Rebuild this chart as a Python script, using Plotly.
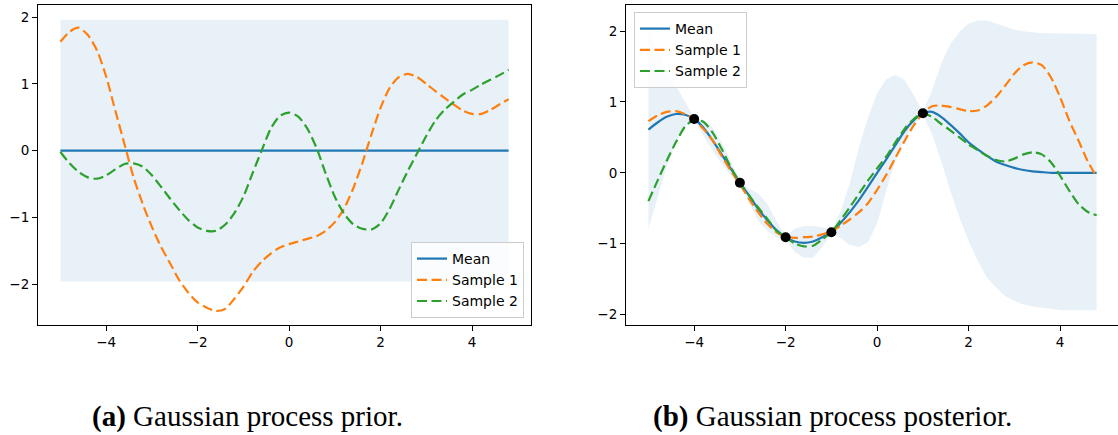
import plotly.graph_objects as go

# ---------------- data ----------------
x_grid = [-5.0, -4.8, -4.6, -4.4, -4.2, -4.0, -3.8, -3.6, -3.4, -3.2,
          -3.0, -2.8, -2.6, -2.4, -2.2, -2.0, -1.8, -1.6, -1.4, -1.2,
          -1.0, -0.8, -0.6, -0.4, -0.2, 0.0, 0.2, 0.4, 0.6, 0.8,
          1.0, 1.2, 1.4, 1.6, 1.8, 2.0, 2.2, 2.4, 2.6, 2.8,
          3.0, 3.2, 3.4, 3.6, 3.8, 4.0, 4.2, 4.4, 4.6, 4.8]

# (a) prior
prior_mean_x = [-5.0, 4.8]
prior_mean = [0.0, 0.0]
prior_band_x = [-5.0, 4.8]
prior_upper = [1.96, 1.96]
prior_lower = [-1.96, -1.96]
prior_sample1 = [1.63, 1.78, 1.84, 1.73, 1.50, 1.11,
                 0.60, 0.10, -0.40, -0.80, -1.14,
                 -1.44, -1.69, -1.94, -2.13, -2.27,
                 -2.35, -2.40, -2.37, -2.22, -2.04,
                 -1.82, -1.66, -1.54, -1.45, -1.40,
                 -1.36, -1.32, -1.28, -1.20, -1.07,
                 -0.87, -0.57, -0.19, 0.24, 0.64,
                 0.94, 1.10, 1.15, 1.10, 1.00,
                 0.89, 0.79, 0.69, 0.60, 0.55,
                 0.55, 0.61, 0.69, 0.77]
prior_sample2 = [-0.02, -0.19, -0.32, -0.40, -0.42, -0.37,
                 -0.28, -0.20, -0.19, -0.24, -0.37,
                 -0.54, -0.72, -0.89, -1.04, -1.15,
                 -1.20, -1.20, -1.11, -0.94, -0.69,
                 -0.34, 0.00, 0.33, 0.52, 0.57,
                 0.51, 0.33, 0.04, -0.34, -0.69,
                 -0.94, -1.10, -1.17, -1.18, -1.09,
                 -0.87, -0.58, -0.30, -0.04, 0.22,
                 0.45, 0.61, 0.73, 0.84, 0.91,
                 0.99, 1.06, 1.13, 1.21]

# (b) posterior
post_mean = [0.61, 0.71, 0.79, 0.83, 0.82, 0.76,
             0.64, 0.46, 0.26, 0.06, -0.14,
             -0.32, -0.51, -0.67, -0.81, -0.91,
             -0.97, -0.99, -0.97, -0.91, -0.84,
             -0.71, -0.56, -0.39, -0.20, 0.00,
             0.19, 0.39, 0.59, 0.74, 0.84,
             0.86, 0.79, 0.68, 0.56, 0.43,
             0.33, 0.24, 0.16, 0.11, 0.07,
             0.04, 0.02, 0.01, 0.00, 0.00,
             0.00, 0.00, 0.00, 0.00]
post_sample1 = [0.73, 0.81, 0.86, 0.87, 0.83, 0.75,
                0.62, 0.46, 0.24, 0.03, -0.16,
                -0.37, -0.56, -0.72, -0.84, -0.90,
                -0.92, -0.91, -0.90, -0.87, -0.83,
                -0.75, -0.66, -0.56, -0.43, -0.24,
                -0.03, 0.21, 0.45, 0.67, 0.84,
                0.94, 0.95, 0.93, 0.90, 0.87,
                0.88, 0.95, 1.07, 1.23, 1.40,
                1.52, 1.56, 1.52, 1.35, 1.07,
                0.74, 0.46, 0.17, -0.06]
post_sample2 = [-0.40, -0.11, 0.17, 0.43, 0.65, 0.75,
                0.72, 0.57, 0.34, 0.08, -0.14,
                -0.32, -0.49, -0.65, -0.82, -0.91,
                -1.00, -1.04, -1.03, -0.94, -0.84,
                -0.67, -0.49, -0.30, -0.11, 0.06,
                0.23, 0.43, 0.62, 0.76, 0.84,
                0.79, 0.69, 0.60, 0.50, 0.40,
                0.32, 0.24, 0.18, 0.16, 0.20,
                0.26, 0.29, 0.26, 0.15, -0.04,
                -0.25, -0.44, -0.55, -0.60]
post_upper = [2.03, 1.72, 1.43, 1.23, 1.00, 0.78,
              0.74, 0.65, 0.43, 0.17, -0.12,
              -0.23, -0.29, -0.44, -0.68, -0.89,
              -0.79, -0.75, -0.75, -0.77, -0.82,
              -0.55, -0.15, 0.35, 0.78, 1.12,
              1.32, 1.38, 1.31, 1.10, 0.86,
              1.16, 1.54, 1.82, 1.99, 2.11,
              2.15, 2.15, 2.11, 2.06, 2.02,
              2.00, 1.98, 1.97, 1.97, 1.97,
              1.97, 1.96, 1.96, 1.96]
post_lower = [-0.79, -0.34, 0.08, 0.42, 0.65, 0.74,
              0.53, 0.32, 0.13, -0.04, -0.16,
              -0.42, -0.68, -0.82, -0.91, -0.93,
              -1.12, -1.20, -1.20, -1.05, -0.86,
              -0.92, -1.02, -1.05, -0.98, -0.72,
              -0.25, 0.17, 0.48, 0.69, 0.82,
              0.55, 0.17, -0.25, -0.63, -0.96,
              -1.24, -1.48, -1.62, -1.74, -1.81,
              -1.86, -1.89, -1.91, -1.92, -1.94,
              -1.94, -1.94, -1.94, -1.94]
obs_x = [-4.0, -3.0, -2.0, -1.0, 1.0]
obs_y = [0.76, -0.14, -0.91, -0.84, 0.84]

x_ticks = [-4, -2, 0, 2, 4]
y_ticks = [-2, -1, 0, 1, 2]
captions = ["<b>(a)</b> Gaussian process prior.", "<b>(b)</b> Gaussian process posterior."]

# ---------------- style ----------------
BLUE, ORANGE, GREEN = "#1f77b4", "#ff7f0e", "#2ca02c"
FILL = "rgba(31,119,180,0.1)"
LW = 2.2
DASH = "10px,4.5px"
SMOOTH = 0.7
TICKFONT = dict(family="DejaVu Sans", size=13.5, color="#000")
LEGFONT = dict(family="DejaVu Sans", size=14, color="#000")


def line(color, dash=None):
    d = dict(color=color, width=LW, shape="spline", smoothing=SMOOTH)
    if dash:
        d["dash"] = dash
    return d


fig = go.Figure()

# ----- (a) prior -----
fig.add_trace(go.Scatter(x=prior_band_x + prior_band_x[::-1], y=prior_upper + prior_lower[::-1],
                         fill="toself", fillcolor=FILL, line=dict(width=0), mode="lines",
                         showlegend=False, hoverinfo="skip", xaxis="x", yaxis="y"))
fig.add_trace(go.Scatter(x=prior_mean_x, y=prior_mean, mode="lines", name="Mean",
                         line=dict(color=BLUE, width=LW), xaxis="x", yaxis="y", legend="legend"))
fig.add_trace(go.Scatter(x=x_grid, y=prior_sample1, mode="lines", name="Sample 1",
                         line=line(ORANGE, DASH), xaxis="x", yaxis="y", legend="legend"))
fig.add_trace(go.Scatter(x=x_grid, y=prior_sample2, mode="lines", name="Sample 2",
                         line=line(GREEN, DASH), xaxis="x", yaxis="y", legend="legend"))

# ----- (b) posterior -----
fig.add_trace(go.Scatter(x=x_grid + x_grid[::-1], y=post_upper + post_lower[::-1],
                         fill="toself", fillcolor=FILL, line=dict(width=0), mode="lines",
                         showlegend=False, hoverinfo="skip", xaxis="x2", yaxis="y2"))
fig.add_trace(go.Scatter(x=x_grid, y=post_mean, mode="lines", name="Mean",
                         line=line(BLUE), xaxis="x2", yaxis="y2", legend="legend2"))
fig.add_trace(go.Scatter(x=x_grid, y=post_sample1, mode="lines", name="Sample 1",
                         line=line(ORANGE, DASH), xaxis="x2", yaxis="y2", legend="legend2"))
fig.add_trace(go.Scatter(x=x_grid, y=post_sample2, mode="lines", name="Sample 2",
                         line=line(GREEN, DASH), xaxis="x2", yaxis="y2", legend="legend2"))
fig.add_trace(go.Scatter(x=obs_x, y=obs_y, mode="markers", showlegend=False,
                         marker=dict(color="black", size=10, line=dict(width=0)),
                         xaxis="x2", yaxis="y2"))

W, H = 1118, 435
ML, MR, MT, MB = 38, 0, 5, 110
PW, PH = W - ML - MR, H - MT - MB


def px_x(p):
    return (p - ML) / PW


def px_y(p):
    return (H - MB - p) / PH


axis_common = dict(showgrid=False, zeroline=False, showline=True, linecolor="#000", linewidth=1.1,
                   ticks="outside", ticklen=5, tickwidth=1, tickcolor="#000", tickfont=TICKFONT)

legend_common = dict(bgcolor="rgba(255,255,255,0.8)", bordercolor="#cccccc", borderwidth=1,
                     font=LEGFONT, tracegroupgap=0)

fig.update_layout(
    width=W, height=H, autosize=False,
    margin=dict(l=ML, r=MR, t=MT, b=MB, pad=0),
    paper_bgcolor="white", plot_bgcolor="white",
    xaxis=dict(domain=[0, px_x(531)], range=[-5.49, 5.29], tickvals=x_ticks, mirror=True,
               anchor="y", **axis_common),
    yaxis=dict(domain=[0, 1], range=[-2.61, 2.18], tickvals=y_ticks, mirror=True,
               anchor="x", **axis_common),
    xaxis2=dict(domain=[px_x(626), 1], range=[-5.49, 5.267], tickvals=x_ticks, mirror=True,
                anchor="y2", **axis_common),
    yaxis2=dict(domain=[0, 1], range=[-2.15, 2.37], tickvals=y_ticks, mirror=False,
                anchor="x2", **axis_common),
    legend=dict(x=px_x(524), y=px_y(318), xanchor="right", yanchor="bottom", **legend_common),
    legend2=dict(x=px_x(634), y=px_y(12), xanchor="left", yanchor="top", **legend_common),
    annotations=[
        dict(text=captions[0], x=px_x(247.5), y=px_y(416), xref="paper", yref="paper",
             xanchor="center", yanchor="middle", showarrow=False,
             font=dict(family="Liberation Serif", size=29, color="#000")),
        dict(text=captions[1], x=px_x(832.5), y=px_y(416), xref="paper", yref="paper",
             xanchor="center", yanchor="middle", showarrow=False,
             font=dict(family="Liberation Serif", size=29, color="#000")),
    ],
)

fig.write_html("out.html", config={"displayModeBar": False})
